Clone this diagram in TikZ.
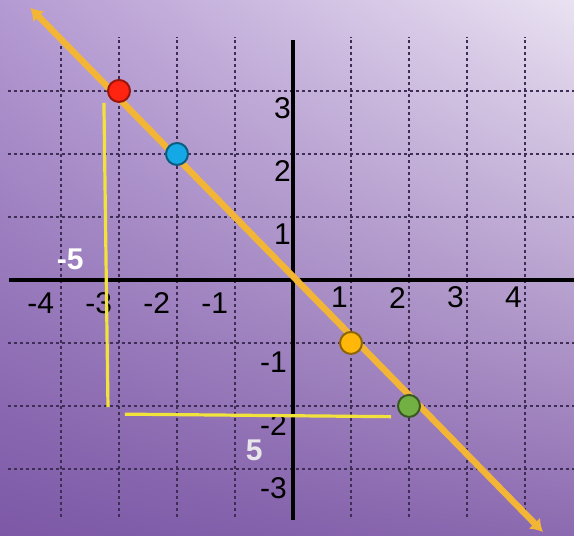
\documentclass[tikz,border=0pt]{standalone}
\usepackage{fontspec}
\setmainfont{Liberation Sans}
\usepackage{xcolor}
\usetikzlibrary{arrows.meta,shadings}
\definecolor{bgUL}{HTML}{B49AD2}
\definecolor{bgUR}{HTML}{EAE2F2}
\definecolor{bgLL}{HTML}{7C58A6}
\definecolor{bgLR}{HTML}{8C6AB0}
\definecolor{gridc}{HTML}{3E2E55}
\definecolor{linec}{HTML}{F2B536}
\definecolor{slopec}{HTML}{F2E23C}
\definecolor{ptred}{HTML}{FF2412}
\definecolor{ptblue}{HTML}{14A8E6}
\definecolor{ptorange}{HTML}{FFB80A}
\definecolor{ptgreen}{HTML}{72B043}

\begin{document}
\begin{tikzpicture}[
  x=29pt,y=31.5pt,
  gridline/.style={draw=gridc,line width=0.75pt,dash pattern=on 1.6pt off 1.4pt},
  axisline/.style={draw=black,line width=1.6pt},
  ticklbl/.style={font=\fontsize{15}{17}\selectfont,text=black,inner sep=0pt},
  runlbl/.style={font=\fontsize{15}{17}\selectfont\bfseries,inner sep=0pt},
  dotpt/.style={circle,line width=1pt,minimum size=11pt,inner sep=0pt},
  slopeline/.style={draw=slopec,line width=1.6pt},
  lineArr/.style={draw=linec,line width=3.2pt,{Latex[length=6pt,width=8pt]}-{Latex[length=6pt,width=8pt]}}
]
\useasboundingbox (-5.052,-4.063) rectangle (4.845,4.444);
\shade[upper left=bgUL,upper right=bgUR,lower left=bgLL,lower right=bgLR]
  (-5.052,-4.063) rectangle (4.845,4.444);

\foreach \x in {-4,-3,-2,-1,1,2,3,4}
  \draw[gridline] (\x,-3.76) -- (\x,3.86);
\foreach \y in {-3,-2,-1,1,2,3}
  \draw[gridline] (-4.91,\y) -- (4.85,\y);

\draw[axisline] (-4.9,0) -- (4.85,0);
\draw[axisline] (0,-3.81) -- (0,3.81);

\foreach \x in {-4,-3,-2,-1}
  \node[ticklbl] (xl\x) at (\x-0.35,-0.37) {\x};
\foreach \x in {1,2,3,4}
  \node[ticklbl] (xl\x) at (\x-0.2,-0.28) {\x};
\foreach \y in {1,2,3}
  \node[ticklbl,anchor=east] (yl\y) at (-0.03,\y-0.27) {\y};
\foreach \y in {-1,-2,-3}
  \node[ticklbl,anchor=east] (yl\y) at (-0.1,\y-0.3) {\y};

\coordinate (riseTop) at (-3.26,2.81);
\coordinate (riseBot) at (-3.19,-2.02);
\coordinate (runL) at (-2.9,-2.13);
\coordinate (runR) at (1.69,-2.17);
\draw[slopeline] (riseTop) -- (riseBot);
\draw[slopeline] (runL) -- (runR);

\node[runlbl,text=white] (riseLbl) at (-3.84,0.32) {-5};
\node[runlbl,text=white!88!gridc] (runLbl) at (-0.67,-2.70) {5};

\coordinate (lineS) at (-4.53,4.32);
\coordinate (lineE) at (4.31,-4.0);
\draw[lineArr] (lineS) -- (lineE);

\node[dotpt,fill=ptred,draw=ptred!60!black] (ptA) at (-3,3) {};
\node[dotpt,fill=ptblue,draw=ptblue!55!black] (ptB) at (-2,2) {};
\node[dotpt,fill=ptorange,draw=ptorange!55!black] (ptC) at (1,-1) {};
\node[dotpt,fill=ptgreen,draw=ptgreen!50!black] (ptD) at (2,-2) {};
\end{tikzpicture}
\end{document}
